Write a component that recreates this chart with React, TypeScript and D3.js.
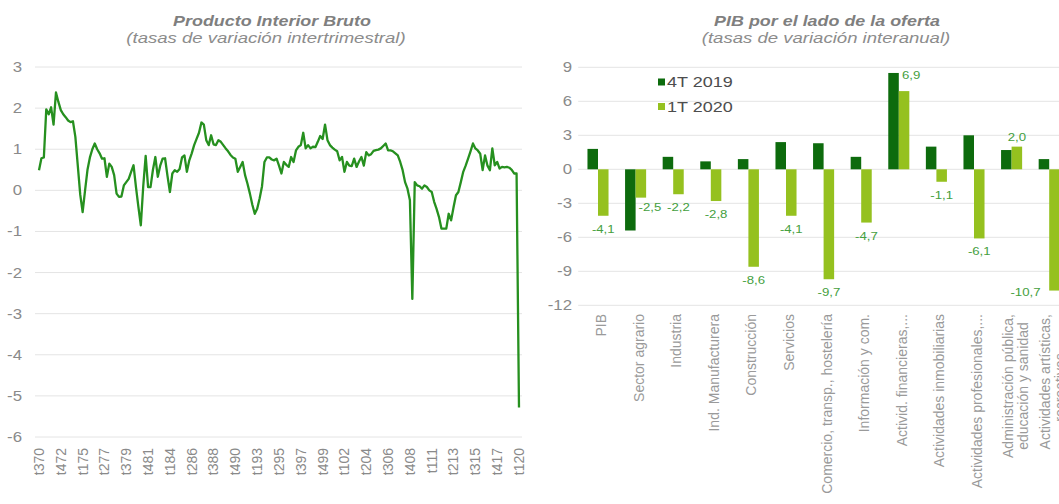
import React from "react";
import * as d3 from "d3";

const W = 1059;
const H = 504;
const SX = 1.2; // horizontal stretch of the original picture's text
const FONT = "'Liberation Sans', Arial, sans-serif";

// Producto Interior Bruto, tasas de variación intertrimestral (1970T3 - 2020T1)
const gdpQoQ = [
  0.49, 0.78, 0.8, 1.97, 1.85, 2.02, 1.6, 2.38, 2.15, 1.95,
  1.85, 1.78, 1.7, 1.66, 1.68, 1.3, 0.6, -0.1, -0.53, 0.0,
  0.5, 0.8, 1.0, 1.14, 1.0, 0.9, 0.77, 0.78, 0.33, 0.65,
  0.57, 0.37, -0.08, -0.16, -0.15, 0.12, 0.2, 0.28, 0.45, 0.61,
  0.08, -0.4, -0.85, 0.1, 0.84, 0.08, 0.08, 0.5, 0.81, 0.33,
  0.6, 0.77, 0.78, 0.35, -0.04, 0.41, 0.49, 0.45, 0.52, 0.8,
  0.85, 0.45, 0.73, 0.9, 1.1, 1.25, 1.4, 1.65, 1.6, 1.22,
  1.1, 1.34, 1.12, 1.1, 1.22, 1.18, 1.1, 1.02, 0.95, 0.86,
  0.8, 0.77, 0.45, 0.57, 0.69, 0.37, 0.16, -0.08, -0.35, -0.57,
  -0.45, -0.2, 0.1, 0.69, 0.8, 0.8, 0.75, 0.73, 0.77, 0.6,
  0.41, 0.69, 0.62, 0.57, 0.81, 0.69, 0.97, 1.06, 1.1, 1.4,
  1.02, 1.1, 1.02, 1.06, 1.05, 1.18, 1.32, 1.25, 1.6, 1.22,
  1.1, 1.04, 0.99, 0.95, 0.73, 0.81, 0.45, 0.69, 0.6, 0.59,
  0.77, 0.57, 0.7, 0.81, 0.6, 0.93, 0.85, 0.88, 0.96, 0.98,
  0.99, 1.02, 1.08, 1.14, 0.97, 0.97, 0.95, 0.9, 0.85, 0.69,
  0.49, 0.2, 0.04, -0.24, -2.64, 0.2, 0.12, 0.1, 0.04, 0.12,
  0.08, 0.0, -0.04, -0.28, -0.45, -0.65, -0.93, -0.93, -0.93, -0.57,
  -0.73, -0.41, -0.12, -0.04, 0.2, 0.45, 0.6, 0.77, 0.95, 1.14,
  1.02, 0.97, 0.89, 0.49, 0.85, 0.6, 0.49, 1.02, 0.61, 0.69,
  0.53, 0.57, 0.56, 0.57, 0.55, 0.5, 0.41, 0.41, -5.28,
];
const firstYear = 1970;
const firstQuarter = 3;
const quarters = gdpQoQ.map((_, i) => {
  const q = firstQuarter - 1 + i;
  const year = firstYear + Math.floor(q / 4);
  return `t${(q % 4) + 1}${String(year % 100).padStart(2, "0")}`;
});
const xTickLabels = [
  "t370", "t472", "t175", "t277", "t379", "t481", "t184", "t286", "t388", "t490",
  "t193", "t295", "t397", "t499", "t102", "t204", "t306", "t408", "t111", "t213",
  "t315", "t417", "t120",
];
const yTicksLeft = [3, 2, 1, 0, -1, -2, -3, -4, -5, -6];

// PIB por el lado de la oferta, tasas de variación interanual
const sectors = [
  ["PIB"],
  ["Sector agrario"],
  ["Industria"],
  ["Ind. Manufacturera"],
  ["Construcción"],
  ["Servicios"],
  ["Comercio, transp., hostelería"],
  ["Información y com."],
  ["Activid. financieras,..."],
  ["Actividades inmobiliarias"],
  ["Actividades profesionales,..."],
  ["Administración pública,", "educación y sanidad"],
  ["Actividades artísticas,", "recreativas..."],
];
const q4_2019 = [1.8, -5.4, 1.1, 0.7, 0.9, 2.4, 2.3, 1.1, 8.5, 2.0, 3.0, 1.7, 0.9];
const q1_2020 = [-4.1, -2.5, -2.2, -2.8, -8.6, -4.1, -9.7, -4.7, 6.9, -1.1, -6.1, 2.0, -10.7];
const yTicksRight = [9, 6, 3, 0, -3, -6, -9, -12];
const seriesNames = ["4T 2019", "1T 2020"];

// hand-placed data labels (dx, dy) as in the original
const labelNudge: Record<number, [number, number]> = {
  1: [9, -4],
  8: [7, -6],
  12: [-29, -12],
};

const DARK = "#0d6b0d";
const LIGHT = "#95c11f";
const LINE = "#26901f";
const GRID = "#e4e4e4";
const TICK = "#8a8a8a";

let ctx: CanvasRenderingContext2D | null = null;
function measure(text: string, font: string) {
  if (!ctx) ctx = document.createElement("canvas").getContext("2d");
  if (!ctx) return text.length * 6.5;
  ctx.font = font;
  return ctx.measureText(text).width;
}

const HText = ({ x, y, anchor = "start", size, color, weight = "normal", italic = false, sx = SX, children }: any) => (
  <text
    transform={`translate(${x},${y}) scale(${sx},1)`}
    textAnchor={anchor}
    fontSize={size}
    fill={color}
    fontWeight={weight}
    fontStyle={italic ? "italic" : "normal"}
    fontFamily={FONT}
  >
    {children}
  </text>
);

const LineChart = () => {
  const left = 35, right = 522, top = 67, bottom = 437;
  const x = d3.scalePoint<string>().domain(quarters).range([39, 519]);
  const y = d3.scaleLinear().domain([-6, 3]).range([bottom, top]);
  const path = d3
    .line<number>()
    .x((_, i) => x(quarters[i]) as number)
    .y((d) => y(d))(gdpQoQ);

  return (
    <g>
      <HText x={272} y={26} anchor="middle" size={14} sx={1.28} color="#7f7f7f" weight="bold" italic>
        Producto Interior Bruto
      </HText>
      <HText x={266} y={42.5} anchor="middle" size={14.5} sx={1.28} color="#8c8c8c" italic>
        (tasas de variación intertrimestral)
      </HText>
      {yTicksLeft.map((t) => (
        <g key={t}>
          <line x1={left} x2={right} y1={y(t)} y2={y(t)} stroke={GRID} strokeWidth={1} />
          <HText x={22} y={y(t) + 5} anchor="end" size={14} color={TICK}>
            {t}
          </HText>
        </g>
      ))}
      <path d={path || ""} fill="none" stroke={LINE} strokeWidth={2.3} strokeLinejoin="round" />
      {xTickLabels.map((t) => (
        <text
          key={t}
          transform={`translate(${x(t)},${bottom + 11}) rotate(-90)`}
          textAnchor="end"
          dy="0.35em"
          fontSize={14}
          fill={TICK}
          fontFamily={FONT}
        >
          {t}
        </text>
      ))}
    </g>
  );
};

const BarChart = () => {
  const left = 579.2, step = 37.6;
  const cats = sectors.map((s) => s.join(" "));
  const x = d3.scaleBand<string>().domain(cats).range([left, left + step * cats.length]);
  const y = d3.scaleLinear().domain([-12, 9]).range([305.3, 67.3]);
  const bw = x.bandwidth() * 0.28;
  const labelTop = 314;
  const catFont = `14px ${FONT}`;

  return (
    <g>
      <HText x={827} y={26} anchor="middle" size={14} sx={1.28} color="#7f7f7f" weight="bold" italic>
        PIB por el lado de la oferta
      </HText>
      <HText x={826} y={42.5} anchor="middle" size={14.5} sx={1.28} color="#8c8c8c" italic>
        (tasas de variación interanual)
      </HText>
      {yTicksRight.map((t) => (
        <g key={t}>
          <line x1={left - 1} x2={W} y1={y(t)} y2={y(t)} stroke={GRID} strokeWidth={1} />
          <HText x={572} y={y(t) + 5} anchor="end" size={14} color={TICK}>
            {t}
          </HText>
        </g>
      ))}
      {cats.map((c, i) => {
        const cx = (x(c) as number) + x.bandwidth() / 2;
        const v1 = q4_2019[i];
        const v2 = q1_2020[i];
        const [ndx, ndy] = labelNudge[i] || [0, 0];
        const ly = v2 < 0 ? y(v2) + 17 : y(v2) - 6;
        return (
          <g key={c}>
            <rect x={cx - bw} y={Math.min(y(v1), y(0))} width={bw} height={Math.abs(y(v1) - y(0))} fill={DARK} />
            <rect x={cx} y={Math.min(y(v2), y(0))} width={bw} height={Math.abs(y(v2) - y(0))} fill={LIGHT} />
            <HText x={cx + bw / 2 + ndx} y={ly + ndy} anchor="middle" size={11} color="#45a040">
              {String(v2.toFixed(1)).replace(".", ",")}
            </HText>
          </g>
        );
      })}
      {sectors.map((lines, i) => {
        const cx = (x(cats[i]) as number) + x.bandwidth() / 2;
        if (lines.length === 1) {
          return (
            <text
              key={i}
              transform={`translate(${cx + 3},${labelTop}) rotate(-90)`}
              textAnchor="end"
              dy="0.35em"
              fontSize={14}
              fill="#9a9a9a"
              fontFamily={FONT}
            >
              {lines[0]}
            </text>
          );
        }
        const maxLen = Math.max(...lines.map((l) => measure(l, catFont)));
        const mid = labelTop + maxLen / 2;
        return (
          <g key={i}>
            {lines.map((l, j) => (
              <text
                key={j}
                transform={`translate(${cx - 4 + j * 15},${mid}) rotate(-90)`}
                textAnchor="middle"
                dy="0.35em"
                fontSize={14}
                fill="#9a9a9a"
                fontFamily={FONT}
              >
                {l}
              </text>
            ))}
          </g>
        );
      })}
      {seriesNames.map((s, i) => (
        <g key={s}>
          <rect x={658} y={78.5 + i * 24.5} width={7} height={7} fill={i === 0 ? DARK : LIGHT} />
          <HText x={667} y={87 + i * 24.5} size={15} color="#4d4d4d">
            {s}
          </HText>
        </g>
      ))}
    </g>
  );
};

export default function App() {
  return (
    <svg
      width={W}
      height={H}
      style={{ position: "absolute", left: 0, top: 0, background: "#fff", display: "block" }}
    >
      <rect width={W} height={H} fill="#fff" />
      <LineChart />
      <BarChart />
    </svg>
  );
}
